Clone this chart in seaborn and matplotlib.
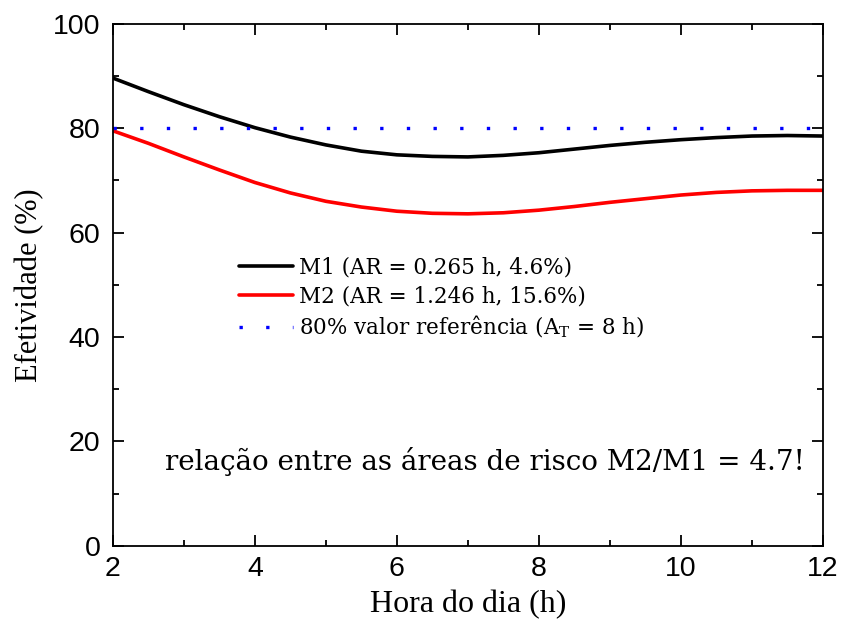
import matplotlib
matplotlib.use("Agg")
import matplotlib.pyplot as plt
import seaborn as sns
import pandas as pd
from matplotlib.ticker import MultipleLocator

hours = [2.0, 2.5, 3.0, 3.5, 4.0, 4.5, 5.0, 5.5, 6.0, 6.5, 7.0, 7.5, 8.0,
         8.5, 9.0, 9.5, 10.0, 10.5, 11.0, 11.5, 12.0]
m1 = [89.6, 87.0, 84.5, 82.2, 80.1, 78.3, 76.8, 75.6, 74.9, 74.6, 74.5, 74.8,
      75.3, 76.0, 76.7, 77.3, 77.8, 78.2, 78.5, 78.6, 78.5]
m2 = [79.5, 77.1, 74.5, 72.0, 69.6, 67.6, 66.0, 64.9, 64.1, 63.7, 63.6, 63.8,
      64.3, 65.0, 65.8, 66.5, 67.2, 67.7, 68.0, 68.1, 68.1]
ref_x = [2.0, 12.0]
ref_y = [80.0, 80.0]

lab_m1 = "M1 (AR = 0.265 h, 4.6%)"
lab_m2 = "M2 (AR = 1.246 h, 15.6%)"
lab_ref = "80% valor referência (A$_\\mathregular{T}$ = 8 h)"

sns.set_style("ticks")
plt.rcParams['font.family'] = ['Liberation Sans', 'DejaVu Sans']
plt.rcParams['text.color'] = 'black'
plt.rcParams['axes.labelcolor'] = 'black'
plt.rcParams['xtick.color'] = 'black'
plt.rcParams['ytick.color'] = 'black'
plt.rcParams['axes.edgecolor'] = 'black'

fig = plt.figure(figsize=(8.43, 6.26), dpi=100)
ax = fig.add_axes([0.134, 0.128, 0.842, 0.834])

df1 = pd.DataFrame({"x": hours, "y": m1})
df2 = pd.DataFrame({"x": hours, "y": m2})
dfr = pd.DataFrame({"x": ref_x, "y": ref_y})

sns.lineplot(data=df1, x="x", y="y", ax=ax, color="black", lw=2.6, label=lab_m1)
sns.lineplot(data=df2, x="x", y="y", ax=ax, color="#ff0000", lw=2.6, label=lab_m2)
sns.lineplot(data=dfr, x="x", y="y", ax=ax, color="#0000ff", lw=2.4,
             linestyle=(0, (1, 7)), label=lab_ref)

ax.set_xlim(2, 12)
ax.set_ylim(0, 100)
ax.xaxis.set_major_locator(MultipleLocator(2))
ax.xaxis.set_minor_locator(MultipleLocator(1))
ax.yaxis.set_major_locator(MultipleLocator(20))
ax.yaxis.set_minor_locator(MultipleLocator(10))
ax.tick_params(which="both", direction="in", top=True, right=True, width=1.3,
               labelsize=20.5)
ax.tick_params(axis="x", pad=7)
ax.tick_params(axis="y", pad=9)
ax.tick_params(which="major", length=8)
ax.tick_params(which="minor", length=4.5)
for s in ax.spines.values():
    s.set_linewidth(1.3)

serif = ['Liberation Serif', 'DejaVu Serif']
ax.set_xlabel("Hora do dia (h)", fontsize=23, family=serif, labelpad=6)
ax.set_ylabel("Efetividade (%)", fontsize=22, family=serif, labelpad=6)

leg = ax.legend(loc="upper left", bbox_to_anchor=(0.165, 0.57), frameon=False,
                prop={'family': ['DejaVu Serif'], 'size': 15.5},
                handlelength=2.5, handletextpad=0.3, labelspacing=0.3,
                borderaxespad=0)

ax.text(7.24, 16.1, "relação entre as áreas de risco M2/M1 = 4.7!",
        ha="center", va="center", fontsize=20, family=['DejaVu Serif'])

fig.savefig("out.png", dpi=100)
